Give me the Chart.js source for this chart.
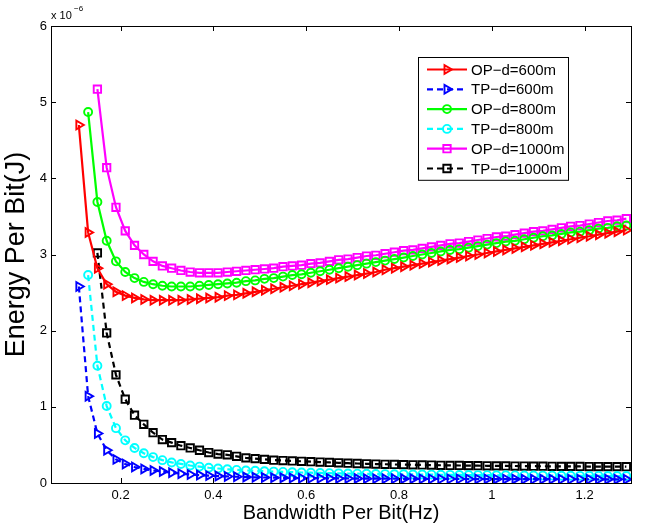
<!DOCTYPE html>
<html>
<head>
<meta charset="utf-8">
<script src="https://cdn.jsdelivr.net/npm/chart.js@4.4.1/dist/chart.umd.min.js"></script>
<style>
  html, body { margin: 0; padding: 0; background: #fff; }
  #wrap { width: 647px; height: 527px; }
</style>
</head>
<body>
<div id="wrap"><canvas id="myChart" width="647" height="527"></canvas></div>
<script>
// bandwidth per bit (Hz), shared x grid
const bandwidth = [0.11,0.13,0.15,0.17,0.19,0.21,0.23,0.25,0.27,0.29,
                   0.31,0.33,0.35,0.37,0.39,0.41,0.43,0.45,0.47,0.49,
                   0.51,0.53,0.55,0.57,0.59,0.61,0.63,0.65,0.67,0.69,
                   0.71,0.73,0.75,0.77,0.79,0.81,0.83,0.85,0.87,0.89,
                   0.91,0.93,0.95,0.97,0.99,1.01,1.03,1.05,1.07,1.09,
                   1.11,1.13,1.15,1.17,1.19,1.21,1.23,1.25,1.27,1.29];

// energy per bit, x 10^-6 J
const op600 = [4.70,3.29,2.82,2.61,2.51,2.46,2.43,2.41,2.40,2.40,
               2.40,2.40,2.41,2.42,2.43,2.44,2.46,2.47,2.49,2.51,
               2.53,2.55,2.57,2.59,2.61,2.63,2.65,2.67,2.69,2.71,
               2.73,2.75,2.77,2.80,2.82,2.84,2.86,2.88,2.90,2.92,
               2.94,2.96,2.98,3.00,3.02,3.04,3.06,3.08,3.10,3.12,
               3.14,3.16,3.18,3.20,3.22,3.24,3.26,3.28,3.30,3.32];
const tp600 = [2.58,1.14,0.65,0.43,0.31,0.25,0.21,0.185,0.165,0.15,
               0.135,0.122,0.112,0.104,0.097,0.091,0.086,0.082,0.078,0.075,
               0.072,0.070,0.068,0.066,0.064,0.063,0.062,0.061,0.060,0.059,
               0.058,0.057,0.057,0.056,0.056,0.055,0.055,0.054,0.054,0.053,
               0.053,0.053,0.052,0.052,0.052,0.051,0.051,0.051,0.050,0.050,
               0.050,0.050,0.049,0.049,0.049,0.049,0.048,0.048,0.048,0.048];
const op800 = [null,4.87,3.69,3.18,2.91,2.77,2.69,2.64,2.61,2.59,
               2.58,2.58,2.58,2.59,2.60,2.61,2.62,2.63,2.65,2.66,
               2.68,2.69,2.71,2.73,2.74,2.76,2.78,2.80,2.82,2.84,
               2.86,2.88,2.90,2.92,2.94,2.96,2.98,3.00,3.02,3.04,
               3.06,3.07,3.09,3.11,3.13,3.15,3.17,3.18,3.20,3.22,
               3.24,3.25,3.27,3.29,3.30,3.32,3.34,3.35,3.37,3.38];
const tp800 = [null,2.73,1.54,1.01,0.72,0.56,0.46,0.39,0.34,0.30,
               0.27,0.25,0.23,0.215,0.20,0.19,0.18,0.172,0.165,0.16,
               0.155,0.15,0.146,0.142,0.138,0.135,0.132,0.129,0.127,0.125,
               0.123,0.121,0.119,0.117,0.115,0.114,0.112,0.111,0.110,0.108,
               0.107,0.106,0.105,0.104,0.103,0.102,0.101,0.100,0.099,0.098,
               0.097,0.097,0.096,0.095,0.094,0.094,0.093,0.092,0.092,0.091];
const op1000 = [null,null,5.17,4.14,3.62,3.31,3.12,3.00,2.91,2.85,
                2.82,2.79,2.77,2.76,2.76,2.76,2.77,2.78,2.79,2.80,
                2.81,2.82,2.84,2.85,2.86,2.88,2.89,2.91,2.93,2.94,
                2.96,2.98,2.99,3.01,3.03,3.05,3.06,3.08,3.10,3.12,
                3.14,3.15,3.17,3.19,3.21,3.23,3.24,3.26,3.28,3.30,
                3.31,3.33,3.35,3.37,3.38,3.40,3.42,3.44,3.45,3.47];
const tp1000 = [null,null,3.02,1.97,1.42,1.10,0.89,0.77,0.66,0.57,
                0.53,0.49,0.46,0.43,0.40,0.38,0.37,0.35,0.33,0.32,
                0.31,0.30,0.295,0.29,0.285,0.28,0.275,0.27,0.265,0.26,
                0.256,0.252,0.249,0.246,0.243,0.241,0.239,0.237,0.235,0.233,
                0.231,0.230,0.228,0.227,0.226,0.225,0.224,0.223,0.222,0.221,
                0.220,0.219,0.218,0.218,0.217,0.216,0.216,0.215,0.215,0.214];

const seriesNames = ['OP\u2212d=600m','TP\u2212d=600m','OP\u2212d=800m','TP\u2212d=800m','OP\u2212d=1000m','TP\u2212d=1000m'];
const xTicks = [0.2, 0.4, 0.6, 0.8, 1, 1.2];
const yTicks = [0, 1, 2, 3, 4, 5, 6];

const FONT = '"Liberation Sans", Arial, Helvetica, sans-serif';

function pts(vals) {
    return bandwidth.map((x, i) => ({x: x, y: vals[i]})).filter(p => p.y !== null);
}

function makeSet(label, vals, color, style, dashed) {
    return {
        label: label,
        data: pts(vals),
        borderColor: color,
        backgroundColor: 'rgba(0,0,0,0)',
        borderWidth: 2.2,
        borderDash: dashed ? [6, 4] : [],
        pointStyle: style,
        pointRotation: style === 'triangle' ? 90 : 0,
        pointRadius: style === 'triangle' ? 5 : (style === 'rect' ? 5.2 : 4),
        pointBorderWidth: 1.9,
        pointBorderColor: color,
        pointBackgroundColor: 'rgba(0,0,0,0)',
        fill: false,
        tension: 0
    };
}

// matlab style box, inward ticks, multiplier and legend
const matlabAxes = {
    id: 'matlabAxes',
    afterDatasetsDraw(chart) {
        const ctx = chart.ctx;
        const a = chart.chartArea;
        const sx = chart.scales.x, sy = chart.scales.y;
        ctx.save();
        ctx.strokeStyle = '#000';
        ctx.lineWidth = 1;
        ctx.setLineDash([]);
        ctx.strokeRect(a.left + 0.5, a.top + 0.5, a.right - a.left, a.bottom - a.top);
        ctx.beginPath();
        xTicks.forEach(v => {
            const px = Math.round(sx.getPixelForValue(v)) + 0.5;
            ctx.moveTo(px, a.bottom); ctx.lineTo(px, a.bottom - 5);
            ctx.moveTo(px, a.top); ctx.lineTo(px, a.top + 5);
        });
        yTicks.forEach(v => {
            const py = Math.round(sy.getPixelForValue(v)) + 0.5;
            ctx.moveTo(a.left, py); ctx.lineTo(a.left + 5, py);
            ctx.moveTo(a.right, py); ctx.lineTo(a.right - 5, py);
        });
        ctx.stroke();

        // multiplier
        ctx.fillStyle = '#000';
        ctx.textBaseline = 'alphabetic';
        ctx.textAlign = 'left';
        ctx.font = '11px ' + FONT;
        ctx.fillText('x 10', a.left, 19);
        ctx.font = '8px ' + FONT;
        ctx.fillText('\u22126', a.left + 23, 11);

        // legend box
        const lx = 418, ly = 57, lw = 150, rowH = 19.8;
        const lh = rowH * chart.data.datasets.length + 4;
        ctx.fillStyle = '#fff';
        ctx.fillRect(lx, ly, lw, lh);
        ctx.strokeRect(lx + 0.5, ly + 0.5, lw, lh);
        chart.data.datasets.forEach((ds, i) => {
            const cy = ly + 12.5 + i * rowH;
            ctx.strokeStyle = ds.borderColor;
            ctx.lineWidth = 2.2;
            ctx.setLineDash(ds.borderDash);
            ctx.beginPath();
            ctx.moveTo(427, cy); ctx.lineTo(467, cy);
            ctx.stroke();
            ctx.setLineDash([]);
            ctx.fillStyle = 'rgba(0,0,0,0)';
            ctx.lineWidth = ds.pointBorderWidth;
            Chart.helpers.drawPoint(ctx, {
                pointStyle: ds.pointStyle,
                rotation: ds.pointRotation,
                radius: ds.pointRadius,
                borderWidth: ds.pointBorderWidth
            }, 447, cy);
            ctx.fillStyle = '#000';
            ctx.font = '15px ' + FONT;
            ctx.textBaseline = 'middle';
            ctx.fillText(ds.label, 471, cy + 1);
        });
        ctx.restore();
    }
};

const ctx = document.querySelector('#myChart').getContext('2d');
const myChart = new Chart(ctx, {
    type: 'line',
    data: {
        datasets: [
            makeSet(seriesNames[0], op600, '#ff0000', 'triangle', false),
            makeSet(seriesNames[1], tp600, '#0000ff', 'triangle', true),
            makeSet(seriesNames[2], op800, '#00ff00', 'circle', false),
            makeSet(seriesNames[3], tp800, '#00ffff', 'circle', true),
            makeSet(seriesNames[4], op1000, '#ff00ff', 'rect', false),
            makeSet(seriesNames[5], tp1000, '#000000', 'rect', true)
        ]
    },
    options: {
        responsive: false,
        animation: false,
        layout: { padding: { left: 0, top: 26, right: 16, bottom: 0 } },
        plugins: {
            legend: { display: false },
            tooltip: { enabled: false }
        },
        scales: {
            x: {
                type: 'linear',
                min: 0.05,
                max: 1.3,
                afterBuildTicks: s => { s.ticks = xTicks.map(v => ({value: v})); },
                afterFit: s => { s.height = 44; },
                grid: { display: false, drawTicks: false },
                border: { display: false },
                ticks: {
                    color: '#000', padding: 5, maxRotation: 0,
                    font: { family: FONT, size: 13 },
                    callback: v => String(v)
                },
                title: {
                    display: true, text: 'Bandwidth Per Bit(Hz)', color: '#000',
                    font: { family: FONT, size: 20 }, padding: { top: 0, bottom: 2 }
                }
            },
            y: {
                min: 0,
                max: 6,
                afterBuildTicks: s => { s.ticks = yTicks.map(v => ({value: v})); },
                afterFit: s => { s.width = 51; },
                grid: { display: false, drawTicks: false },
                border: { display: false },
                ticks: {
                    color: '#000', padding: 4,
                    font: { family: FONT, size: 13 }
                },
                title: {
                    display: true, text: 'Energy Per Bit(J)', color: '#000',
                    font: { family: FONT, size: 27 }, padding: { top: 0, bottom: 0 }
                }
            }
        }
    },
    plugins: [matlabAxes]
});
</script>
</body>
</html>
